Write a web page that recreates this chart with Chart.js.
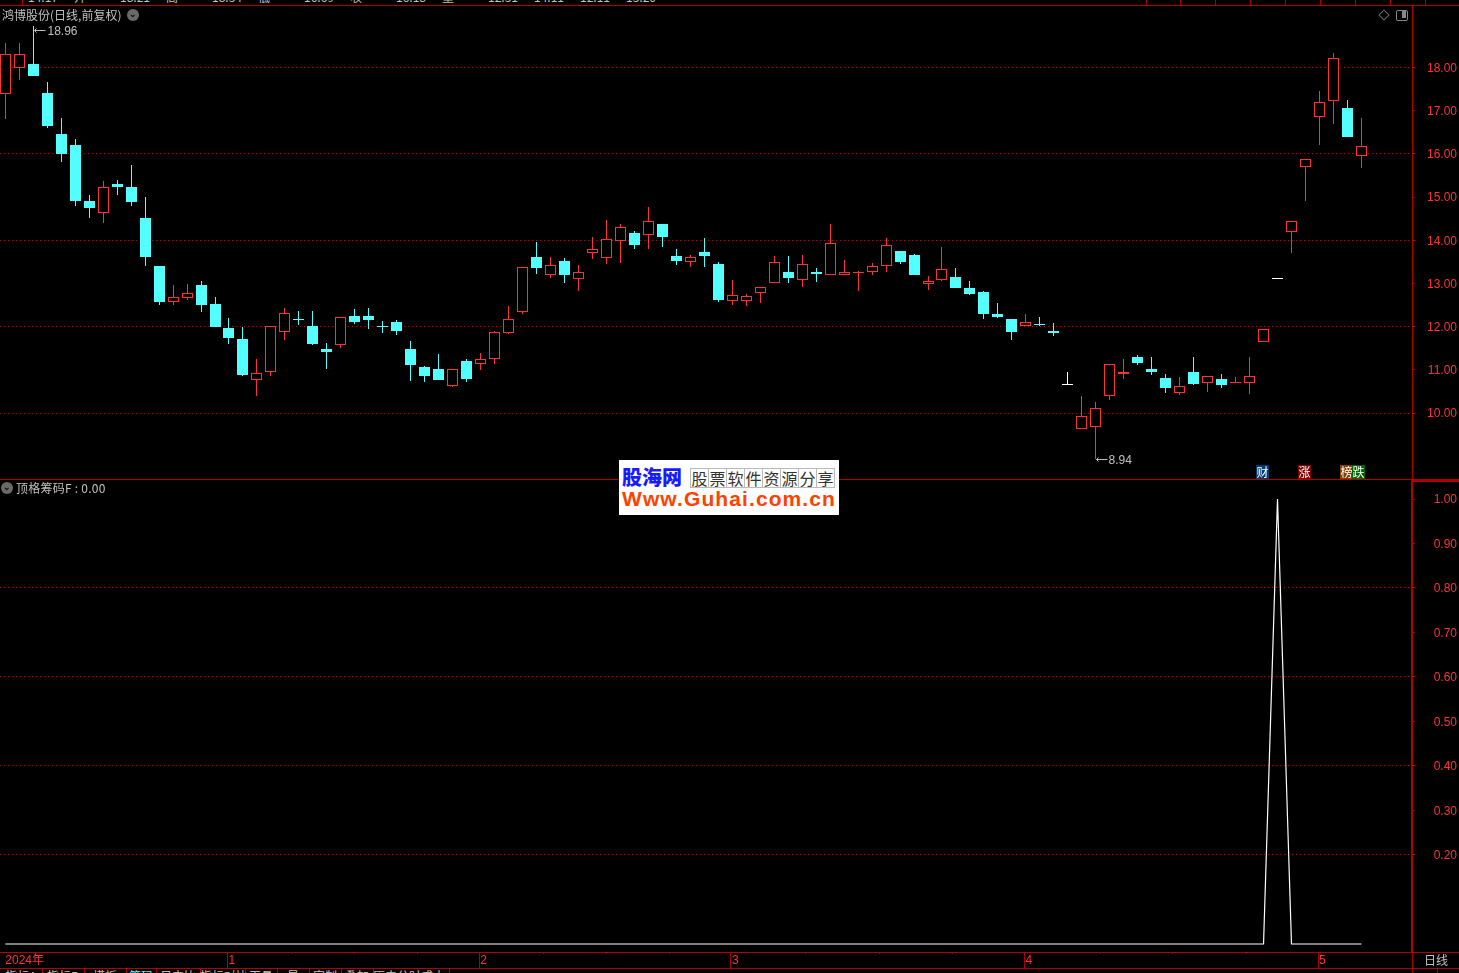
<!DOCTYPE html>
<html lang="zh">
<head>
<meta charset="utf-8">
<title>鸿博股份</title>
<script src="https://cdn.jsdelivr.net/npm/chart.js@4"></script>
<style>
  html, body { margin: 0; background: #000; }
  #page { position: relative; width: 1459px; height: 973px; overflow: hidden; background: #000;
          font: 12px "Noto Sans CJK SC", "Liberation Sans", sans-serif; color: #c0c0c0; }
  #page div, #page canvas { position: absolute; }
  .rule { background: #b00000; }
  .txt { white-space: nowrap; line-height: 14px; }
  .badge { width: 13px; height: 14px; line-height: 14px; text-align: center; color: #fff; }
  .circle { width: 12px; height: 12px; border-radius: 50%; background: #6a6a6a; color: #111;
            font: bold 9px/11px "Liberation Sans"; text-align: center; }
  .strip { overflow: hidden; }
  #logo { left: 619px; top: 460px; width: 220px; height: 55px; background: #fff; }
  .cell { top: 8px; width: 17px; height: 18px; border: 1px solid #bbb; margin-left: -1px;
          font: 16px/18px "Noto Sans CJK SC"; text-align: center; color: #333; }
</style>
</head>
<body>
<div id="page">
  <canvas id="priceChart" style="left:0;top:6px"></canvas>
  <canvas id="factorChart" style="left:0;top:480px"></canvas>

  <!-- frame lines -->
  <div class="rule" style="left:0;top:5px;width:1459px;height:1px"></div>
  <div class="rule" style="left:0;top:479px;width:1459px;height:1px"></div>
  <div class="rule" style="left:1412px;top:480px;width:47px;height:2px"></div>
  <div class="rule" style="left:0;top:952px;width:1459px;height:1px"></div>
  <div class="rule" style="left:0;top:968px;width:1459px;height:1px"></div>
  <div class="rule" style="left:1412px;top:5px;width:1px;height:968px"></div>
  <div class="rule" style="left:1437px;top:968px;width:1px;height:5px"></div>

  <div id="topStrip" class="strip" style="left:0;top:0;width:1459px;height:5px"></div>
  <div id="tabStrip" class="strip" style="left:0;top:969px;width:1412px;height:4px"></div>

  <!-- panel titles -->
  <div class="txt" style="left:2px;top:8px">鸿博股份(日线,前复权)</div>
  <div class="circle" style="left:127px;top:9px">&#8964;</div>
  <div class="txt" style="left:16px;top:481px;letter-spacing:.25px">顶格筹码F : 0.00</div>
  <div class="circle" style="left:1px;top:482px">&#8964;</div>
  <div style="left:1380px;top:11px;width:6px;height:6px;border:1px solid #666;transform:rotate(45deg)"></div>
  <div style="left:1396px;top:10px;width:10px;height:9px;border:1px solid #888;border-radius:2px"></div>
  <div style="left:1402px;top:11px;width:4px;height:7px;background:#888"></div>

  <div class="badge" style="left:1256px;top:465px;background:#003c74">财</div>
  <div class="badge" style="left:1298px;top:465px;background:#800000">涨</div>
  <div class="badge" style="left:1340px;top:465px;background:#804000">榜</div>
  <div class="badge" style="left:1352px;top:465px;background:#006400">跌</div>

  <div class="txt" style="left:1424px;top:953px;color:#c0c0c0">日线</div>

  <!-- site stamp -->
  <div id="logo">
    <div style="left:3px;top:5px;font:900 20px/24px 'Noto Sans CJK SC';color:#1a1aff;white-space:nowrap">股海网</div>
    <div class="cell" style="left:72px">股</div><div class="cell" style="left:90px">票</div>
    <div class="cell" style="left:108px">软</div><div class="cell" style="left:126px">件</div>
    <div class="cell" style="left:144px">资</div><div class="cell" style="left:162px">源</div>
    <div class="cell" style="left:180px">分</div><div class="cell" style="left:198px">享</div>
    <div style="left:3px;top:28px;font:bold 21px/22px 'Liberation Sans';color:#ff4200;white-space:nowrap;letter-spacing:1.1px">Www.Guhai.com.cn</div>
  </div>
</div>

<script>
// price panel: one entry per trading day
const opens = [
  17.38, 18.00, 18.08, 17.41, 16.46, 16.21, 14.91, 14.62, 15.30, 15.23,
  14.52, 13.41, 12.56, 12.67, 12.97, 12.53, 11.97, 11.72, 10.77, 10.94,
  11.88, 12.18, 12.02, 11.48, 11.58, 12.25, 12.25, 12.02, 12.11, 11.48,
  11.07, 11.02, 10.63, 11.21, 11.14, 11.24, 11.86, 12.35, 13.61, 13.20,
  13.52, 13.11, 13.71, 13.60, 13.99, 14.17, 14.13, 14.38, 13.64, 13.50,
  13.73, 13.45, 12.60, 12.60, 12.79, 13.00, 13.27, 13.09, 13.27, 13.20,
  13.20, 13.24, 13.27, 13.41, 13.75, 13.66, 12.99, 13.09, 13.15, 12.90,
  12.80, 12.29, 12.18, 12.02, 12.06, 11.90, 10.67,  9.62,  9.68, 10.40,
  10.90, 11.30, 11.02, 10.81, 10.47, 10.95, 10.70, 10.79, 10.70, 10.70,
  11.65, 13.13, 14.20, 15.70, 16.86, 17.22, 17.06, 15.96
];
const closes = [
  18.31, 18.31, 17.80, 16.65, 16.00, 14.91, 14.75, 15.23, 15.23, 14.89,
  13.61, 12.57, 12.68, 12.77, 12.50, 11.99, 11.74, 10.88, 10.92, 12.01,
  12.31, 12.16, 11.60, 11.41, 12.22, 12.11, 12.16, 11.99, 11.90, 11.11,
  10.86, 10.77, 11.01, 10.79, 11.25, 11.87, 12.17, 13.37, 13.36, 13.42,
  13.20, 13.26, 13.79, 14.02, 14.30, 13.89, 14.44, 14.08, 13.52, 13.61,
  13.64, 12.62, 12.73, 12.70, 12.91, 13.49, 13.13, 13.44, 13.22, 13.93,
  13.26, 13.27, 13.40, 13.88, 13.50, 13.20, 13.06, 13.33, 12.90, 12.76,
  12.29, 12.22, 11.88, 12.10, 12.04, 11.85, 10.67,  9.93, 10.11, 11.13,
  10.95, 11.16, 10.95, 10.58, 10.62, 10.67, 10.85, 10.65, 10.72, 10.85,
  11.94, 13.13, 14.44, 15.88, 17.19, 18.21, 16.39, 16.18
];
const highs = [
  18.57, 18.57, 18.96, 17.66, 16.83, 16.35, 15.05, 15.37, 15.40, 15.74,
  15.00, 13.41, 12.97, 12.99, 13.06, 12.69, 12.20, 11.99, 11.25, 12.02,
  12.43, 12.36, 12.36, 11.62, 12.22, 12.41, 12.43, 12.13, 12.16, 11.67,
  11.09, 11.37, 11.01, 11.25, 11.39, 11.90, 12.48, 13.37, 13.96, 13.61,
  13.59, 13.43, 14.08, 14.47, 14.38, 14.22, 14.77, 14.38, 13.80, 13.66,
  14.05, 13.50, 13.08, 12.76, 12.91, 13.64, 13.64, 13.66, 13.36, 14.38,
  13.54, 13.29, 13.47, 14.05, 13.75, 13.68, 13.17, 13.84, 13.36, 13.06,
  12.83, 12.55, 12.18, 12.29, 12.22, 12.09, 10.95, 10.40, 10.26, 11.13,
  11.25, 11.34, 11.30, 10.90, 10.84, 11.30, 10.85, 10.90, 10.84, 11.30,
  11.94, 13.13, 14.44, 15.88, 17.46, 18.34, 17.25, 16.83
];
const lows = [
  16.81, 17.72, 17.80, 16.60, 15.81, 14.79, 14.52, 14.40, 15.05, 14.79,
  13.41, 12.50, 12.50, 12.62, 12.34, 11.99, 11.60, 10.86, 10.40, 10.86,
  11.69, 12.04, 11.58, 11.02, 11.51, 12.06, 11.95, 11.85, 11.81, 10.74,
  10.72, 10.77, 10.60, 10.72, 11.00, 11.14, 11.83, 12.29, 13.22, 13.13,
  13.01, 12.83, 13.57, 13.45, 13.47, 13.80, 13.80, 13.84, 13.43, 13.38,
  13.38, 12.57, 12.50, 12.48, 12.55, 13.00, 13.01, 12.92, 13.03, 13.20,
  13.20, 12.83, 13.20, 13.27, 13.45, 13.20, 12.85, 13.06, 12.90, 12.73,
  12.18, 12.20, 11.69, 12.02, 12.02, 11.78, 10.67,  9.62,  8.94, 10.30,
  10.79, 11.11, 10.88, 10.46, 10.42, 10.65, 10.49, 10.58, 10.70, 10.44,
  11.65, 13.13, 13.71, 14.91, 16.21, 16.69, 16.39, 15.67
];

// indicator panel: 顶格筹码F, zero everywhere except one day
const factor = [
  0, 0, 0, 0, 0, 0, 0, 0, 0, 0,
  0, 0, 0, 0, 0, 0, 0, 0, 0, 0,
  0, 0, 0, 0, 0, 0, 0, 0, 0, 0,
  0, 0, 0, 0, 0, 0, 0, 0, 0, 0,
  0, 0, 0, 0, 0, 0, 0, 0, 0, 0,
  0, 0, 0, 0, 0, 0, 0, 0, 0, 0,
  0, 0, 0, 0, 0, 0, 0, 0, 0, 0,
  0, 0, 0, 0, 0, 0, 0, 0, 0, 0,
  0, 0, 0, 0, 0, 0, 0, 0, 0, 0,
  0, 1, 0, 0, 0, 0, 0, 0
];

const priceTicks  = [18, 17, 16, 15, 14, 13, 12, 11, 10];
const factorTicks = [1, 0.9, 0.8, 0.7, 0.6, 0.5, 0.4, 0.3, 0.2];
const monthBars   = [0, 15.9, 33.9, 51.9, 72.9, 93.9];
const monthLabels = ['2024年', '1', '2', '3', '4', '5'];
const minorBars   = [20.5, 25, 29.5, 38.5, 43, 47.5, 57.25, 62.5, 67.75, 78.25, 83.5, 88.75];

const topTexts = ['14.17', '开', '18.21', '高', '18.34', '低', '16.69', '收', '16.18', '量', '12:31', '14.11', '12:11', '13.20'];
const tabLabels = ['指标A', '指标B', '模板', '筹码', '日内比', '指标对比', '工具', '星', '定制', '叠加', '历史分时', '成本'];
const tabEdges  = [0, 42, 84, 126, 156, 200, 245, 277, 309, 341, 373, 417, 449];

const RED = '#ff3232', CYAN = '#54ffff', DARK = '#b00000', GREY = '#c0c0c0', WHITE = '#ffffff';
const XMIN = -0.379, XMAX = 100.62;   // keeps bar 0 at x=5 and the axis at x=1412

Chart.defaults.animation = false;
Chart.defaults.devicePixelRatio = 1;
Chart.defaults.font.family = '"Liberation Sans", "Noto Sans CJK SC", sans-serif';
Chart.defaults.font.size = 12;

function barColor(i) {
  if (opens[i] === closes[i]) return WHITE;
  return closes[i] > opens[i] ? RED : CYAN;
}

// snap bars to whole pixels, the terminal draws without antialiasing
const snapBars = {
  id: 'snapBars',
  beforeDatasetsDraw(chart) {
    chart.getSortedVisibleDatasetMetas().forEach(meta => {
      if (meta.type !== 'bar') return;
      meta.data.forEach(el => {
        el.x = Math.floor(el.x) + 0.5;
        el.y = Math.round(el.y);
        el.base = Math.round(el.base);
        if (Math.abs(el.y - el.base) < 1) el.base = el.y + 1;
      });
    });
  }
};

// highest and lowest price markers
const extremeLabels = {
  id: 'extremeLabels',
  afterDatasetsDraw(chart) {
    const { ctx, scales } = chart;
    const hi = highs.indexOf(Math.max(...highs));
    const lo = lows.indexOf(Math.min(...lows));
    const mark = (i, v, dy, gap) => {
      const x = Math.floor(scales.x.getPixelForValue(i)) + 0.5;
      const y = Math.round(scales.y.getPixelForValue(v)) + dy + 0.5;
      ctx.save();
      ctx.strokeStyle = GREY; ctx.fillStyle = GREY; ctx.lineWidth = 1;
      ctx.beginPath();
      ctx.moveTo(x + 3, y - 2); ctx.lineTo(x + 1, y); ctx.lineTo(x + 3, y + 2);
      ctx.moveTo(x + 1, y); ctx.lineTo(x + 12, y);
      ctx.stroke();
      ctx.textBaseline = 'middle';
      ctx.font = Chart.defaults.font.size + 'px ' + Chart.defaults.font.family;
      ctx.fillText(v.toFixed(2), x + gap, y + 1);
      ctx.restore();
    };
    mark(hi, highs[hi], 4, 14);
    mark(lo, lows[lo], 0, 13);
  }
};

// short marks along the date strip
const minorTicks = {
  id: 'minorTicks',
  afterDraw(chart) {
    const { ctx, scales } = chart;
    ctx.save();
    ctx.fillStyle = DARK;
    minorBars.forEach(b => {
      ctx.fillRect(Math.floor(scales.x.getPixelForValue(b)), chart.chartArea.bottom, 1, 2);
    });
    ctx.restore();
  }
};

function yScale(min, max, tickValues, digitsPad, border, isGrid) {
  return {
    position: 'right',
    min, max,
    bounds: 'data',
    afterBuildTicks: s => { s.ticks = tickValues.map(value => ({ value })); },
    afterFit: s => { s.width = 45; s.paddingTop = 0; s.paddingBottom = 0; },
    border: { color: DARK, width: border, dash: [1, 3] },
    grid: {
      color: c => isGrid(c.tick.value) ? '#c00000' : 'transparent',
      tickColor: DARK,
      tickLength: 3,
      lineWidth: 1
    },
    ticks: {
      color: RED,
      padding: digitsPad,
      crossAlign: 'far',
      labelOffset: 1,
      autoSkip: false,
      callback: v => Number(v).toFixed(2)
    }
  };
}

function makeCanvas(id, w, h) {
  const c = document.getElementById(id);
  c.width = w; c.height = h;
  c.style.width = w + 'px'; c.style.height = h + 'px';
  return c;
}

const days = opens.map((_, i) => i);

new Chart(makeCanvas('priceChart', 1457, 473), {
  type: 'bar',
  data: {
    datasets: [
      {
        label: '实体',
        order: 1,
        grouped: false,
        barThickness: 11,
        borderSkipped: false,
        inflateAmount: 0,
        borderWidth: 1,
        data: days.map(i => ({ x: i, y: [opens[i], closes[i]] })),
        borderColor: c => barColor(c.dataIndex),
        backgroundColor: c => barColor(c.dataIndex) === RED ? '#000000' : barColor(c.dataIndex)
      },
      {
        label: '影线',
        order: 2,
        grouped: false,
        barThickness: 1,
        borderWidth: 0,
        inflateAmount: 0,
        data: days.map(i => ({ x: i, y: [lows[i], highs[i]] })),
        backgroundColor: c => barColor(c.dataIndex)
      }
    ]
  },
  options: {
    responsive: false,
    maintainAspectRatio: false,
    layout: { autoPadding: false },
    plugins: { legend: { display: false }, tooltip: { enabled: false } },
    scales: {
      x: { type: 'linear', display: false, offset: false, bounds: 'data', min: XMIN, max: XMAX },
      y: yScale(8.473, 19.424, priceTicks, 12, 1, v => v % 2 === 0)
    }
  },
  plugins: [snapBars, extremeLabels]
});

new Chart(makeCanvas('factorChart', 1457, 488), {
  type: 'line',
  data: {
    datasets: [{
      label: '顶格筹码F',
      data: days.map(i => ({ x: i, y: factor[i] })),
      borderColor: WHITE,
      borderWidth: 1.2,
      pointRadius: 0,
      tension: 0
    }]
  },
  options: {
    responsive: false,
    maintainAspectRatio: false,
    layout: { autoPadding: false },
    plugins: { legend: { display: false }, tooltip: { enabled: false } },
    scales: {
      x: {
        type: 'linear',
        bounds: 'data',
        min: XMIN, max: XMAX,
        afterBuildTicks: s => { s.ticks = monthBars.map(value => ({ value })); },
        afterFit: s => { s.height = 16; s.paddingLeft = 0; s.paddingRight = 0; },
        border: { display: false },
        grid: {
          drawOnChartArea: false,
          tickLength: 16,
          tickColor: c => c.index === 0 ? 'transparent' : DARK
        },
        ticks: {
          color: RED,
          align: 'start',
          padding: -15,
          maxRotation: 0,
          autoSkip: false,
          callback: (v, i) => (i === 0 ? '' : '\u200a') + monthLabels[i]
        }
      },
      y: yScale(-0.018, 1.0427, factorTicks, 19, 2, v => Math.round(v * 10) % 2 === 0 && v < 1)
    }
  },
  plugins: [minorTicks]
});

// cut-off quote row at the very top and tab row at the very bottom
const topStrip = document.getElementById('topStrip');
topTexts.forEach((t, i) => {
  const d = document.createElement('div');
  d.className = 'txt';
  d.textContent = t;
  d.style.left = (28 + i * 46) + 'px';
  d.style.top = '-10px';
  topStrip.appendChild(d);
});
[22, 1146, 1180, 1215, 1250, 1285, 1320, 1355, 1390, 1425].forEach(x => {
  const d = document.createElement('div');
  d.className = 'rule';
  d.style.cssText = 'left:' + x + 'px;top:0;width:1px;height:5px';
  topStrip.appendChild(d);
});

const tabStrip = document.getElementById('tabStrip');
tabLabels.forEach((t, i) => {
  const d = document.createElement('div');
  d.className = 'txt';
  d.textContent = t;
  d.style.cssText = 'left:' + tabEdges[i] + 'px;width:' + (tabEdges[i + 1] - tabEdges[i]) + 'px;top:0;text-align:center;color:' + (i === 3 ? CYAN : GREY);
  tabStrip.appendChild(d);
  const edge = document.createElement('div');
  edge.className = 'rule';
  edge.style.cssText = 'left:' + tabEdges[i + 1] + 'px;top:0;width:1px;height:4px';
  tabStrip.appendChild(edge);
});
</script>
</body>
</html>
